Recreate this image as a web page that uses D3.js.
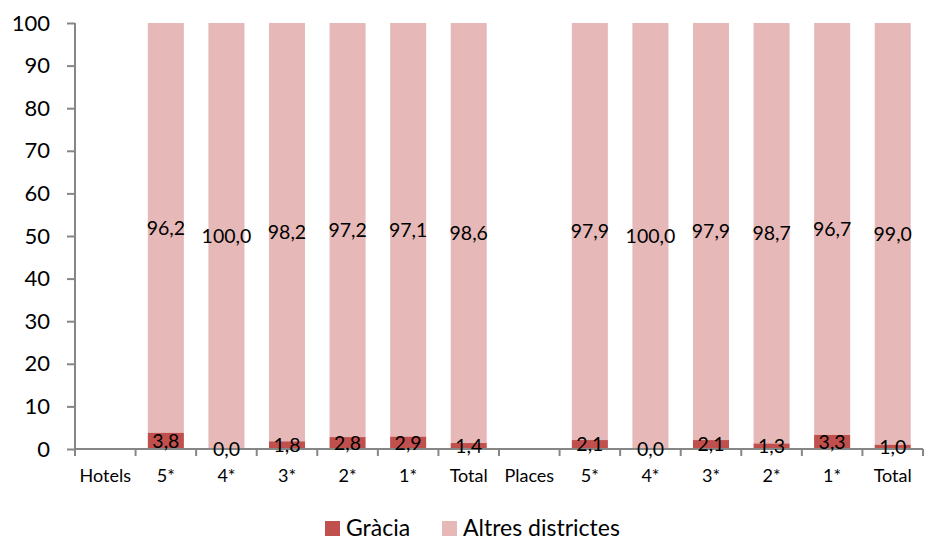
<!DOCTYPE html>
<html><head><meta charset="utf-8">
<script src="https://cdn.jsdelivr.net/npm/d3@7"></script>
<style>body{margin:0;background:#fff}svg{display:block}text{font-family:Lato,"Open Sans",sans-serif;fill:#000}</style>
</head><body><svg id="c" width="926" height="541"></svg>
<script>
const categories = ["Hotels","5*","4*","3*","2*","1*","Total","Places","5*","4*","3*","2*","1*","Total"];
const gracia = [null,3.8,0.0,1.8,2.8,2.9,1.4,null,2.1,0.0,2.1,1.3,3.3,1.0];
const altres = [null,96.2,100.0,98.2,97.2,97.1,98.6,null,97.9,100.0,97.9,98.7,96.7,99.0];
const yTicks = [0,10,20,30,40,50,60,70,80,90,100];
const seriesNames = ["Gràcia","Altres districtes"];
const colors = ["#C0504D","#E6B9B8"];

(function(){
const svg = d3.select("#c");
const mL = 75, mR = 923, mT = 23, mB = 449;
const x = d3.scaleBand().domain(d3.range(categories.length)).range([mL,mR]).paddingInner(0.405).paddingOuter(0.2025);
const y = d3.scaleLinear().domain([0,100]).range([mB,mT]);
const fmt = v => v.toFixed(1).replace(".",",");

const g = svg.append("g");
categories.forEach((c,i)=>{
  if(gracia[i]==null) return;
  const x0 = x(i), w = x.bandwidth();
  g.append("rect").attr("x",x0).attr("width",w).attr("y",y(gracia[i]+altres[i])).attr("height",y(gracia[i])-y(gracia[i]+altres[i])).attr("fill",colors[1]);
  g.append("rect").attr("x",x0).attr("width",w).attr("y",y(gracia[i])).attr("height",y(0)-y(gracia[i])).attr("fill",colors[0]);
});

// y axis
const ya = svg.append("g").attr("transform",`translate(${mL},0)`)
  .call(d3.axisLeft(y).tickValues(yTicks).tickSize(8).tickPadding(17).tickFormat(d3.format("d")));
ya.select(".domain").attr("stroke","#868686").attr("stroke-width",2).attr("d",`M0,${mT}V${mB}`);
ya.selectAll(".tick line").attr("stroke","#868686").attr("stroke-width",2);
ya.selectAll(".tick text").attr("font-size",22).attr("fill","#000");

// x axis
const step = (mR-mL)/categories.length;
const xa = svg.append("g");
xa.append("line").attr("x1",mL).attr("x2",mR).attr("y1",mB).attr("y2",mB).attr("stroke","#868686").attr("stroke-width",2);
d3.range(categories.length+1).forEach(i=>{
  const xx = mL + i*step;
  xa.append("line").attr("x1",xx).attr("x2",xx).attr("y1",mB).attr("y2",mB+7).attr("stroke","#868686").attr("stroke-width",2);
});
categories.forEach((c,i)=>{
  xa.append("text").attr("x",x(i)+x.bandwidth()/2).attr("y",482).attr("text-anchor","middle").attr("font-size",18).text(c);
});

// labels
const lab = svg.append("g");
categories.forEach((c,i)=>{
  if(gracia[i]==null) return;
  const cx = x(i)+x.bandwidth()/2;
  lab.append("text").attr("x",cx).attr("y",y(gracia[i]/2)).attr("dy","0.35em").attr("text-anchor","middle").attr("font-size",19.5).text(fmt(gracia[i]));
  lab.append("text").attr("x",cx).attr("y",y(gracia[i]+altres[i]/2)).attr("dy","0.35em").attr("text-anchor","middle").attr("font-size",19.5).text(fmt(altres[i]));
});

// legend
const leg = svg.append("g");
const lx = [325,442];
seriesNames.forEach((n,i)=>{
  leg.append("rect").attr("x",lx[i]).attr("y",521).attr("width",15).attr("height",15).attr("fill",colors[i]);
  leg.append("text").attr("x",lx[i]+21).attr("y",536).attr("font-size",23).text(n);
});
})();
</script></body></html>
